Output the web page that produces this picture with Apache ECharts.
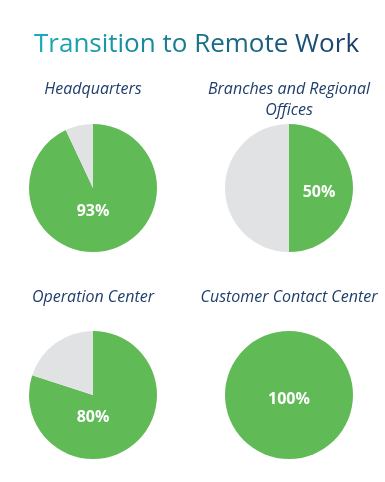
<!DOCTYPE html>
<html><head><meta charset="utf-8">
<script src="https://cdn.jsdelivr.net/npm/echarts@6/dist/echarts.min.js"></script>
<style>html,body{margin:0;padding:0;background:#fff}#c{width:385px;height:482px}</style>
</head><body><div id="c"></div>
<script>
const chartTitle = 'Transition to Remote Work';
const sites = ['Headquarters', 'Branches and Regional\nOffices', 'Operation Center', 'Customer Contact Center'];
const remotePct = [93, 50, 80, 100];
const labelShift = [[0,23],[30,4],[0,22],[0,4]];

const centers = [[93,188],[289,188],[93,395],[289,395]];
const titleY = [79,79,287,287];
const green = '#60bb56', grey = '#e1e2e4';

function lerp(a,b,t){return Math.round(a+(b-a)*t);}
function grad(t){
  const s=[[0x19,0xab,0xb7],[0x17,0x7d,0x90],[0x1c,0x3f,0x6c]];
  let c0,c1,u; if(t<0.5){c0=s[0];c1=s[1];u=t/0.5;}else{c0=s[1];c1=s[2];u=(t-0.5)/0.5;}
  return 'rgb('+lerp(c0[0],c1[0],u)+','+lerp(c0[1],c1[1],u)+','+lerp(c0[2],c1[2],u)+')';
}
const rich = {}; let titleText = '';
const chars = chartTitle.split('');
chars.forEach((ch,k)=>{
  rich['c'+k] = {color:grad(k/(chars.length-1)), fontFamily:'Open Sans', fontSize:26, fontWeight:'normal'};
  titleText += '{c'+k+'|'+ch+'}';
});

const chart = echarts.init(document.getElementById('c'), null, {renderer:'canvas'});
const series = [], titles = [];
titles.push({text:titleText, left:34, top:32, padding:0, textStyle:{rich, fontFamily:'Open Sans', fontSize:26}});
sites.forEach((s,i)=>{
  titles.push({text:s, left:centers[i][0], top:titleY[i], textAlign:'center', padding:0,
    textStyle:{fontFamily:'Open Sans', fontStyle:'italic', fontWeight:'normal', fontSize:16, color:'#1f3e6c', lineHeight:21}});
  const data = [{value:remotePct[i], name:'Remote', itemStyle:{color:green},
      label:{show:true, position:'center', formatter:remotePct[i]+'%', color:'#fff', fontFamily:'Open Sans', fontWeight:'bold', fontSize:16}}];
  if (remotePct[i] < 100) data.push({value:100-remotePct[i], name:'Office', itemStyle:{color:grey}, label:{show:false}});
  series.push({type:'pie', center:centers[i], radius:64, startAngle:90, clockwise:true,
    silent:true, animation:false, labelLine:{show:false}, itemStyle:{borderWidth:0},
    labelLayout:{dx:labelShift[i][0], dy:labelShift[i][1]}, data});
});
chart.setOption({ title: titles, series });
</script></body></html>
